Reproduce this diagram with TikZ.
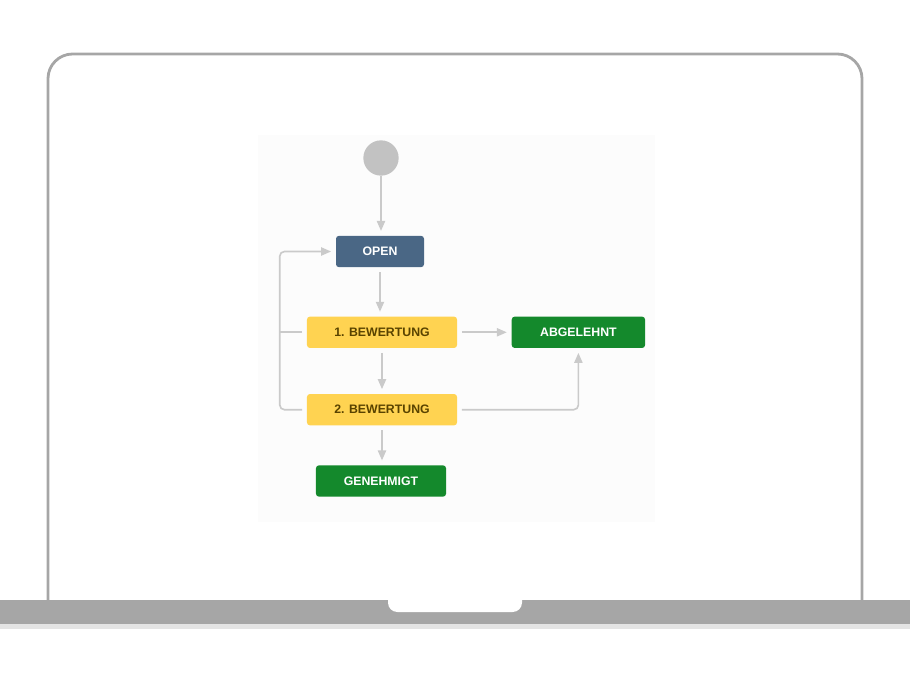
\documentclass[tikz,border=0pt]{standalone}
\usepackage{fontspec}
\setmainfont{Liberation Sans}
\usetikzlibrary{arrows.meta, positioning, calc}

\definecolor{framegray}{HTML}{A6A6A6}
\definecolor{stripegray}{HTML}{E4E4E4}
\definecolor{panelgray}{HTML}{FCFCFC}
\definecolor{startgray}{HTML}{C2C2C2}
\definecolor{flowgray}{HTML}{CACACA}
\definecolor{jiraopen}{HTML}{4A6785}
\definecolor{jirayellow}{HTML}{FFD351}
\definecolor{jirayellowtext}{HTML}{594300}
\definecolor{jiragreen}{HTML}{14892C}

\tikzset{
    status/.style={rounded corners=2.5pt, minimum height=0.94cm, inner sep=0pt,
        font=\fontsize{10.5}{12}\selectfont\bfseries},
    todo/.style={status, fill=jiraopen, text=white},
    inprogress/.style={status, fill=jirayellow, text=jirayellowtext},
    done/.style={status, fill=jiragreen, text=white},
    flow/.style={draw=flowgray, line width=1.4pt, >={Triangle[length=8.5pt, width=7pt]},
        shorten <=4pt, shorten >=4pt}
}

\begin{document}
\begin{tikzpicture}[x=0.03cm, y=-0.03cm]
        \useasboundingbox (0,0) rectangle (910,680);

        % laptop frame
        \draw[framegray, line width=2.4pt, rounded corners=21pt] (48,601) -- (48,54) -- (862,54) -- (862,601);
        \fill[framegray] (0,599.5) rectangle (910,623.5);
        \fill[stripegray] (0,623.5) rectangle (910,628.5);
        \fill[white, rounded corners=8pt] (388,598) -- (388,612) -- (522,612) -- (522,598);

        % diagram panel
        \fill[panelgray] (258,135) rectangle (655,522);

        % states
        \node[circle, fill=startgray, minimum size=1.06cm, inner sep=0pt] (start) at (381,158) {};
        \node[todo, minimum width=2.64cm] (open) at (380,251.5) {OPEN};
        \node[inprogress, minimum width=4.5cm] (bew1) at (382,332.3) {1. BEWERTUNG};
        \node[done, minimum width=4.0cm] (abg) at (578.4,332.3) {ABGELEHNT};
        \node[inprogress, minimum width=4.5cm] (bew2) at (382,409.7) {2. BEWERTUNG};
        \node[done, minimum width=3.9cm] (gen) at (381,481) {GENEHMIGT};

        % transitions
        \draw[flow, ->, shorten <=0pt] (start) -- (start |- open.north);
        \foreach \a/\b in {open/bew1, bew1/bew2, bew2/gen}
            \draw[flow, ->] (\a.south) -- (\a.south |- \b.north);
        \draw[flow, ->] (bew1) -- (abg);
        \draw[flow, ->, rounded corners=4pt] (bew2.east) -| (abg.south);

        % back to open
        \coordinate (loop) at ($(bew2.west)+(-27,0)$);
        \draw[flow, ->, rounded corners=4pt] (bew2.west) -- (loop) |- (open.west);
        \draw[flow, shorten >=0pt] (bew1.west) -- (bew1.west -| loop);
\end{tikzpicture}
\end{document}
